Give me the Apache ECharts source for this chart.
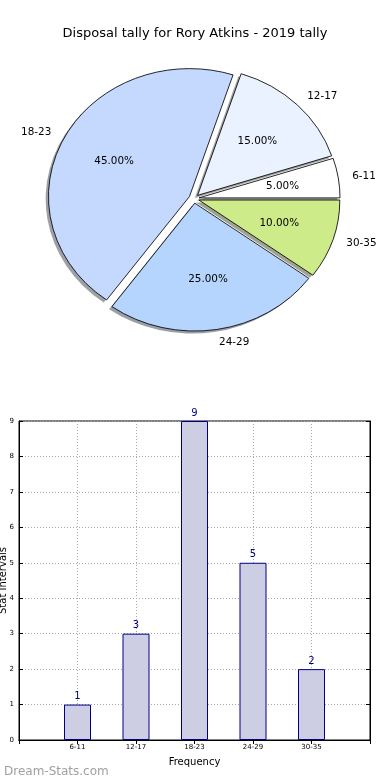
<!DOCTYPE html>
<html>
<head>
<meta charset="utf-8">
<script src="https://cdn.jsdelivr.net/npm/echarts@6/dist/echarts.min.js"></script>
<style>
html,body{margin:0;padding:0;background:#fff;}
#chart{width:390px;height:780px;}
</style>
</head>
<body>
<div id="chart"></div>
<script>
// ---- data ----
const categories = ['6-11', '12-17', '18-23', '24-29', '30-35'];
const counts = [1, 3, 9, 5, 2];
const pieColors = ['#ffffff', '#eaf1ff', '#c5d9ff', '#b5d5ff', '#ceeb8a'];
const yTicks = [0, 1, 2, 3, 4, 5, 6, 7, 8, 9];

// ---- pie layout (pixels) ----
const CX = 194, CY = 198.6;      // pie centre
const SX = 141, SY = 127.9;      // horizontal / vertical radius (stretched axes)
const EXPLODE = 0.036;           // explode fraction of radius
const PCT_DIST = 0.6, LBL_DIST = 1.1;
const FONT = 'DejaVu Sans';

const total = counts.reduce((a, b) => a + b, 0);
const starts = [];
let acc = 0;
counts.forEach(v => { starts.push(acc); acc += v; });

function hexToRgb(h) {
  const n = parseInt(h.slice(1), 16);
  return [(n >> 16) & 255, (n >> 8) & 255, n & 255];
}

function renderPie(params, api) {
  const i = params.dataIndex;
  const v = api.value(0);
  const a0 = starts[i] / total * Math.PI * 2;
  const a1 = (starts[i] + v) / total * Math.PI * 2;
  const mid = (a0 + a1) / 2;
  const ex = CX + SX * EXPLODE * Math.cos(mid);
  const ey = CY - SY * EXPLODE * Math.sin(mid);
  const rgb = hexToRgb(pieColors[i]);
  const shadow = 'rgba(' + Math.round(rgb[0] * 0.3) + ',' + Math.round(rgb[1] * 0.3) + ',' + Math.round(rgb[2] * 0.3) + ',0.5)';
  const shape = { cx: 0, cy: 0, r0: 0, r: SY, startAngle: -a1, endAngle: -a0, clockwise: true };
  const lx = ex + SX * LBL_DIST * Math.cos(mid);
  const ly = ey - SY * LBL_DIST * Math.sin(mid);
  return {
    type: 'group',
    children: [
      {
        type: 'sector', x: ex - 0.02 * SX, y: ey + 0.02 * SY, scaleX: SX / SY, scaleY: 1,
        shape: shape, style: { fill: shadow }, z2: 0, silent: true
      },
      {
        type: 'sector', x: ex, y: ey, scaleX: SX / SY, scaleY: 1,
        shape: shape, style: { fill: pieColors[i], stroke: '#000', lineWidth: 0.8, strokeNoScale: true }, z2: 10
      },
      {
        type: 'text', x: ex + SX * PCT_DIST * Math.cos(mid), y: ey - SY * PCT_DIST * Math.sin(mid), z2: 20,
        style: { text: (v / total * 100).toFixed(2) + '%', align: 'center', verticalAlign: 'middle',
                 fontSize: 10.4, fontFamily: FONT, fill: '#000' }
      },
      {
        type: 'text', x: lx, y: ly, z2: 20,
        style: { text: categories[i], align: (lx - CX) > 0 ? 'left' : 'right', verticalAlign: 'middle',
                 fontSize: 10.4, fontFamily: FONT, fill: '#000' }
      }
    ]
  };
}

const chart = echarts.init(document.getElementById('chart'), null, { renderer: 'canvas' });
const xCats = [''].concat(categories, ['']);
const barData = [null].concat(counts, [null]);

const gridLine = { show: true, lineStyle: { type: [1, 2], color: '#a8a8a8', width: 1 } };

chart.setOption({
  animation: false,
  backgroundColor: '#fff',
  textStyle: { fontFamily: FONT },
  title: [
    { text: 'Disposal tally for Rory Atkins - 2019 tally', left: 'center', top: 22,
      textStyle: { fontSize: 13, fontWeight: 'normal', color: '#000', fontFamily: FONT } },
    { text: 'Dream-Stats.com', left: -1, top: 761,
      textStyle: { fontSize: 12, fontWeight: 'normal', color: '#a0a0a0', fontFamily: FONT } }
  ],
  grid: { left: 19, right: 20, top: 421, bottom: 40, containLabel: false, outerBoundsMode: 'none',
          show: true, borderColor: '#000', borderWidth: 1, backgroundColor: 'transparent' },
  xAxis: [
    {
      type: 'category', data: xCats, boundaryGap: false,
      name: 'Frequency', nameLocation: 'middle', nameGap: 17, nameMoveOverlap: false,
      nameTextStyle: { fontSize: 10, color: '#000', fontFamily: FONT },
      axisLine: { lineStyle: { color: '#000', width: 1 } },
      axisTick: { inside: true, length: 4, lineStyle: { color: '#000' } },
      axisLabel: { fontSize: 7, color: '#000', margin: 4, fontFamily: FONT },
      splitLine: gridLine
    },
    {
      type: 'category', data: xCats, boundaryGap: false, position: 'top',
      axisLine: { lineStyle: { color: '#000', width: 1 } },
      axisTick: { inside: true, length: 4, lineStyle: { color: '#000' } },
      axisLabel: { show: false }, splitLine: { show: false }
    }
  ],
  yAxis: [
    {
      type: 'value', min: yTicks[0], max: yTicks[yTicks.length - 1], interval: 1,
      name: 'Stat Intervals', nameLocation: 'middle', nameGap: 11, nameMoveOverlap: false,
      nameTextStyle: { fontSize: 10, color: '#000', fontFamily: FONT },
      axisLine: { show: true, lineStyle: { color: '#000', width: 1 } },
      axisTick: { show: true, inside: true, length: 4, lineStyle: { color: '#000' } },
      axisLabel: { fontSize: 7, color: '#000', margin: 5, fontFamily: FONT },
      splitLine: gridLine
    },
    {
      type: 'value', min: yTicks[0], max: yTicks[yTicks.length - 1], interval: 1, position: 'right',
      axisLine: { show: true, lineStyle: { color: '#000', width: 1 } },
      axisTick: { show: true, inside: true, length: 4, lineStyle: { color: '#000' } },
      axisLabel: { show: false }, splitLine: { show: false }
    }
  ],
  series: [
    {
      type: 'bar', data: barData, barWidth: 27,
      itemStyle: { color: '#cdcde3', borderColor: '#000080', borderWidth: 1 },
      label: { show: true, position: 'top', distance: 3, fontSize: 10, color: '#000080', fontFamily: FONT },
      z: 1
    },
    {
      type: 'custom', coordinateSystem: 'none',
      data: counts.map(v => [v]),
      renderItem: renderPie
    }
  ]
});
</script>
</body>
</html>
